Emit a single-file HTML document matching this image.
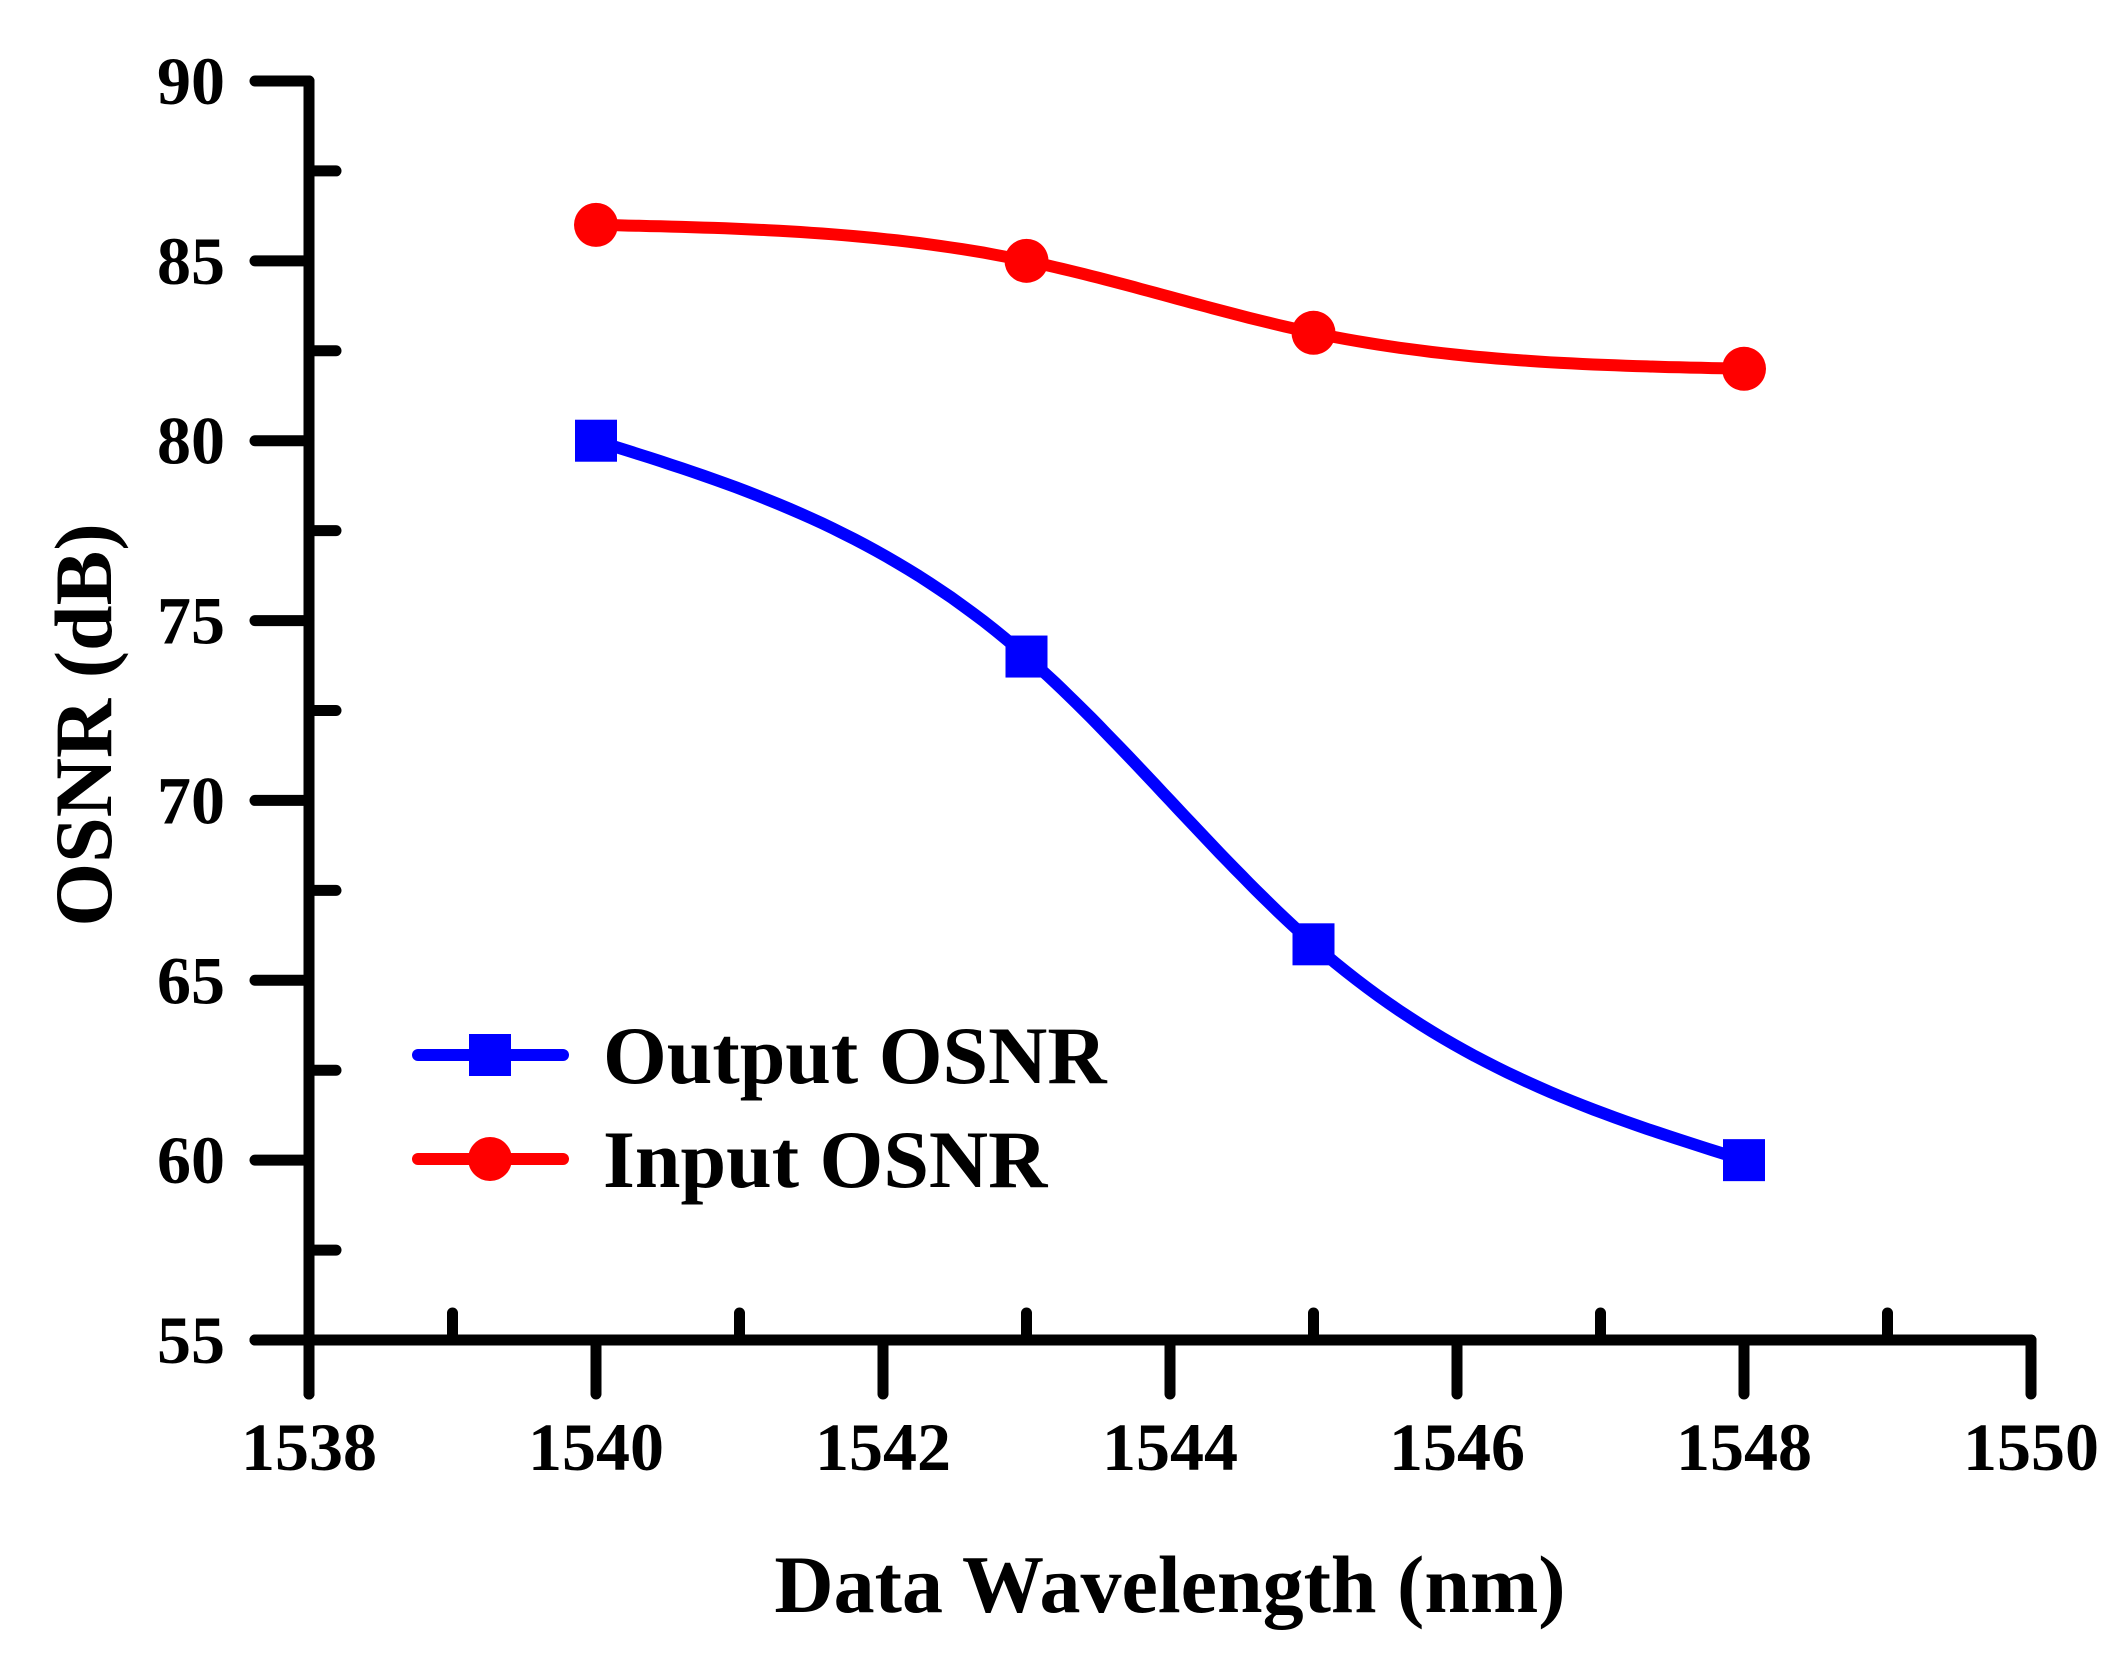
<!DOCTYPE html>
<html><head><meta charset="utf-8"><style>
html,body{margin:0;padding:0;background:#fff;}
svg{display:block;font-family:"Liberation Serif",serif;font-weight:bold;}
</style></head><body>
<svg id="chart" width="2126" height="1654" viewBox="0 0 2126 1654" xmlns="http://www.w3.org/2000/svg"></svg>
<script>
const xCats = [1540, 1543, 1545, 1548];
const outputOSNR = [80, 74, 66, 60];
const inputOSNR = [86, 85, 83, 82];
const xTicks = [1538, 1540, 1542, 1544, 1546, 1548, 1550];
const yTicks = [55, 60, 65, 70, 75, 80, 85, 90];

const X0=309, X1=2031, Y0=1340, Y1=81;
const sx = v => X0 + (v-1538)/(1550-1538)*(X1-X0);
const sy = v => Y0 - (v-55)/(90-55)*(Y0-Y1);
const svg = document.getElementById('chart');
const NS='http://www.w3.org/2000/svg';
function mk(tag, attrs, parent){const e=document.createElementNS(NS,tag);for(const k in attrs)e.setAttribute(k,attrs[k]);(parent||svg).appendChild(e);return e;}

const axes = mk('g',{'stroke':'#000','stroke-width':11,'stroke-linecap':'round','fill':'none'});


mk('line',{x1:X0,y1:Y1,x2:X0,y2:Y0+54},axes);
mk('line',{x1:X0-54,y1:Y0,x2:X1,y2:Y0},axes);
yTicks.forEach(v=>{mk('line',{x1:X0-54,y1:sy(v),x2:X0,y2:sy(v)},axes);
  if(v<90) mk('line',{x1:X0,y1:sy(v+2.5),x2:X0+27,y2:sy(v+2.5)},axes);});
xTicks.forEach(v=>{mk('line',{x1:sx(v),y1:Y0,x2:sx(v),y2:Y0+54},axes);
  if(v<1550) mk('line',{x1:sx(v+1),y1:Y0,x2:sx(v+1),y2:Y0-27},axes);});

yTicks.forEach(v=>{const t=mk('text',{x:225,y:sy(v)+23,'text-anchor':'end','font-size':68});t.textContent=v;
  
  });
xTicks.forEach(v=>{const t=mk('text',{x:sx(v),y:1470,'text-anchor':'middle','font-size':68});t.textContent=v;
  
  });

const xt=mk('text',{x:1170,y:1612,'text-anchor':'middle','font-size':82});xt.textContent='Data Wavelength (nm)';


const yt=mk('text',{x:0,y:0,'text-anchor':'middle','font-size':82,transform:'translate(111,725) rotate(-90)'});yt.textContent='OSNR (dB)';



function naturalSpline(xs,ys){
  const n=xs.length, h=[], a=[], l=[1], mu=[0], z=[0], c=new Array(n).fill(0), b=[], d=[];
  for(let i=0;i<n-1;i++) h.push(xs[i+1]-xs[i]);
  for(let i=1;i<n-1;i++) a[i]=3/h[i]*(ys[i+1]-ys[i])-3/h[i-1]*(ys[i]-ys[i-1]);
  for(let i=1;i<n-1;i++){l[i]=2*(xs[i+1]-xs[i-1])-h[i-1]*mu[i-1];mu[i]=h[i]/l[i];z[i]=(a[i]-h[i-1]*z[i-1])/l[i];}
  for(let j=n-2;j>=0;j--){ if(j>0) c[j]=z[j]-mu[j]*c[j+1]; b[j]=(ys[j+1]-ys[j])/h[j]-h[j]*(c[j+1]+2*c[j])/3; d[j]=(c[j+1]-c[j])/(3*h[j]); }
  let path='';
  for(let j=0;j<n-1;j++){
    for(let k=0;k<=40;k++){
      const t=h[j]*k/40, x=xs[j]+t, y=ys[j]+b[j]*t+c[j]*t*t+d[j]*t*t*t;
      path+=(path?'L':'M')+sx(x).toFixed(1)+','+sy(y).toFixed(1);
    }
  }
  return path;
}
const rl=mk('path',{d:naturalSpline(xCats,inputOSNR),stroke:'#ff0000','stroke-width':12,fill:'none','stroke-linejoin':'round'});


const bl=mk('path',{d:naturalSpline(xCats,outputOSNR),stroke:'#0000ff','stroke-width':12,fill:'none','stroke-linejoin':'round'});


xCats.forEach((x,i)=>{
  const c=mk('circle',{cx:sx(x),cy:sy(inputOSNR[i]),r:22,fill:'#ff0000'});
  
  
  const s=mk('rect',{x:sx(x)-21,y:sy(outputOSNR[i])-21,width:42,height:42,fill:'#0000ff'});
  
  
});

const lg=mk('g',{});


mk('line',{x1:418,y1:1055,x2:563,y2:1055,stroke:'#0000ff','stroke-width':12,'stroke-linecap':'round'},lg);
mk('rect',{x:469,y:1034,width:42,height:42,fill:'#0000ff'},lg);
const l1=mk('text',{x:603,y:1083,'font-size':82},lg);l1.textContent='Output OSNR';


mk('line',{x1:418,y1:1159,x2:563,y2:1159,stroke:'#ff0000','stroke-width':12,'stroke-linecap':'round'},lg);
mk('circle',{cx:490,cy:1159,r:22,fill:'#ff0000'},lg);
const l2=mk('text',{x:603,y:1187,'font-size':82},lg);l2.textContent='Input OSNR';


</script>
</body></html>
